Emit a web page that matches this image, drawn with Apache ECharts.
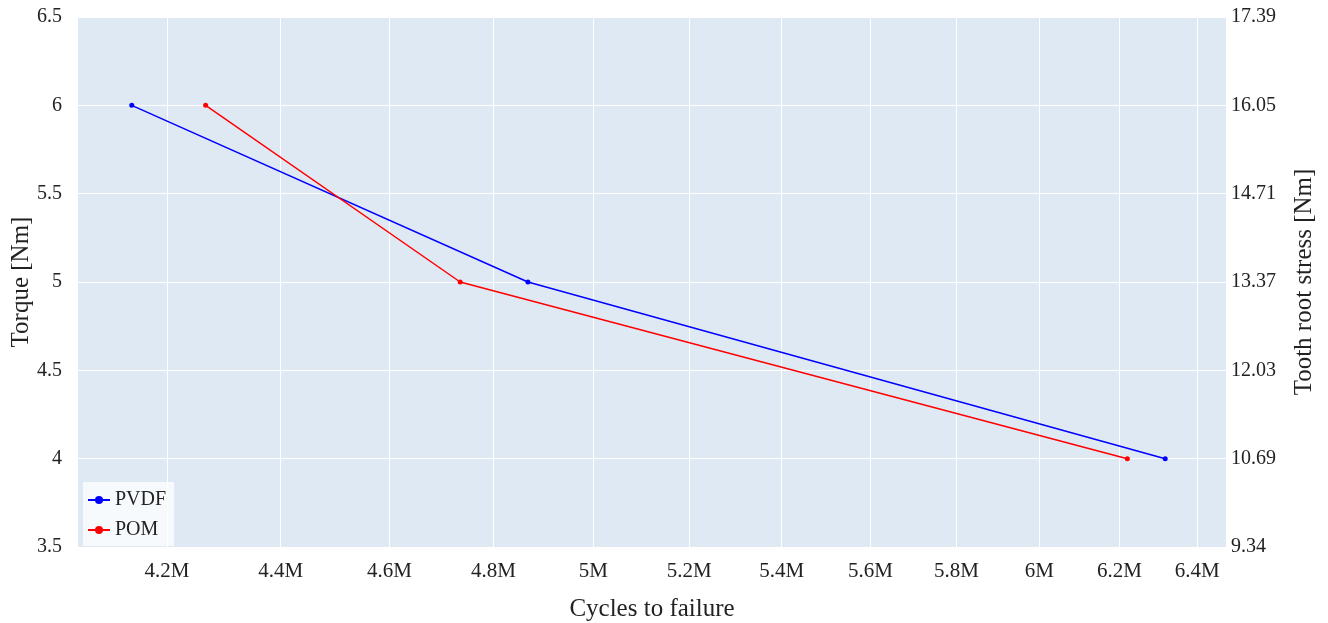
<!DOCTYPE html>
<html>
<head>
<meta charset="utf-8">
<script src="https://cdn.jsdelivr.net/npm/echarts@6/dist/echarts.min.js"></script>
<style>
  html, body { margin: 0; padding: 0; background: #fff; }
  #main { width: 1328px; height: 623px; }
</style>
</head>
<body>
<div id="main"></div>
<script>
// cycles to failure (x), torque (y)
var pvdfCycles = [4.14e6, 4.868e6, 6.317e6];
var pvdfTorque = [6, 5, 4];
var pomCycles = [4.267e6, 4.735e6, 6.22e6];
var pomTorque = [6, 5, 4];

var xTicks = [4.2e6, 4.4e6, 4.6e6, 4.8e6, 5.0e6, 5.2e6, 5.4e6, 5.6e6, 5.8e6, 6.0e6, 6.2e6, 6.4e6];
var stressTicks = ['9.34', '10.69', '12.03', '13.37', '14.71', '16.05', '17.39'];

function pairs(xs, ys) {
    var out = [];
    for (var i = 0; i < xs.length; i++) out.push([xs[i], ys[i]]);
    return out;
}

var myChart = echarts.init(document.getElementById('main'));
var font = '"Liberation Serif", "Times New Roman", serif';
var stressMin = 9.34, stressMax = 17.39, stressStep = (stressMax - stressMin) / 6;

var option = {
    textStyle: { fontFamily: font },
    grid: {
        left: 78, right: 102, top: 17, bottom: 76,
        outerBoundsMode: 'none',
        show: true, backgroundColor: '#dfe9f4', borderWidth: 0
    },
    legend: {
        orient: 'vertical',
        left: 83, bottom: 77,
        padding: [8, 8, 6, 4],
        itemGap: 10,
        itemWidth: 22, itemHeight: 10,
        backgroundColor: 'rgba(255,255,255,0.75)',
        textStyle: { fontFamily: font, fontSize: 20, color: '#222' },
        data: ['PVDF', 'POM']
    },
    xAxis: {
        type: 'log',
        logBase: 10,
        min: 4.05e6,
        max: 6.476e6,
        name: 'Cycles to failure',
        nameLocation: 'middle',
        nameGap: 50,
        nameTextStyle: { fontFamily: font, fontSize: 25, color: '#222' },
        axisLine: { show: false },
        axisTick: { show: false, customValues: xTicks },
        axisLabel: {
            customValues: xTicks,
            fontFamily: font, fontSize: 21, color: '#222', margin: 14,
            formatter: function (v) { return parseFloat((v / 1e6).toFixed(1)) + 'M'; }
        },
        splitLine: { show: true, lineStyle: { color: '#ffffff', width: 1 } }
    },
    yAxis: [{
        type: 'value',
        min: 3.5, max: 6.5, interval: 0.5,
        name: 'Torque [Nm]',
        nameLocation: 'middle',
        nameGap: 44,
        nameMoveOverlap: false,
        nameTextStyle: { fontFamily: font, fontSize: 25, color: '#222' },
        axisLine: { show: false },
        axisTick: { show: false },
        axisLabel: { fontFamily: font, fontSize: 20, color: '#222', margin: 16 },
        splitLine: { show: true, lineStyle: { color: '#ffffff', width: 1 } }
    }, {
        type: 'value',
        position: 'right',
        min: stressMin, max: stressMax, interval: stressStep,
        name: 'Tooth root stress [Nm]',
        nameLocation: 'middle',
        nameGap: 66,
        nameRotate: 90,
        nameTextStyle: { fontFamily: font, fontSize: 25, color: '#222' },
        axisLine: { show: false },
        axisTick: { show: false },
        axisLabel: {
            fontFamily: font, fontSize: 20, color: '#222', margin: 5,
            formatter: function (v) { return stressTicks[Math.round((v - stressMin) / stressStep)]; }
        },
        splitLine: { show: false }
    }],
    series: [{
        name: 'PVDF',
        type: 'line',
        data: pairs(pvdfCycles, pvdfTorque),
        color: '#0000ff',
        symbol: 'circle', symbolSize: 5,
        lineStyle: { width: 1.5 }
    }, {
        name: 'POM',
        type: 'line',
        data: pairs(pomCycles, pomTorque),
        color: '#ff0000',
        symbol: 'circle', symbolSize: 5,
        lineStyle: { width: 1.5 }
    }]
};
myChart.setOption(option);
</script>
</body>
</html>
